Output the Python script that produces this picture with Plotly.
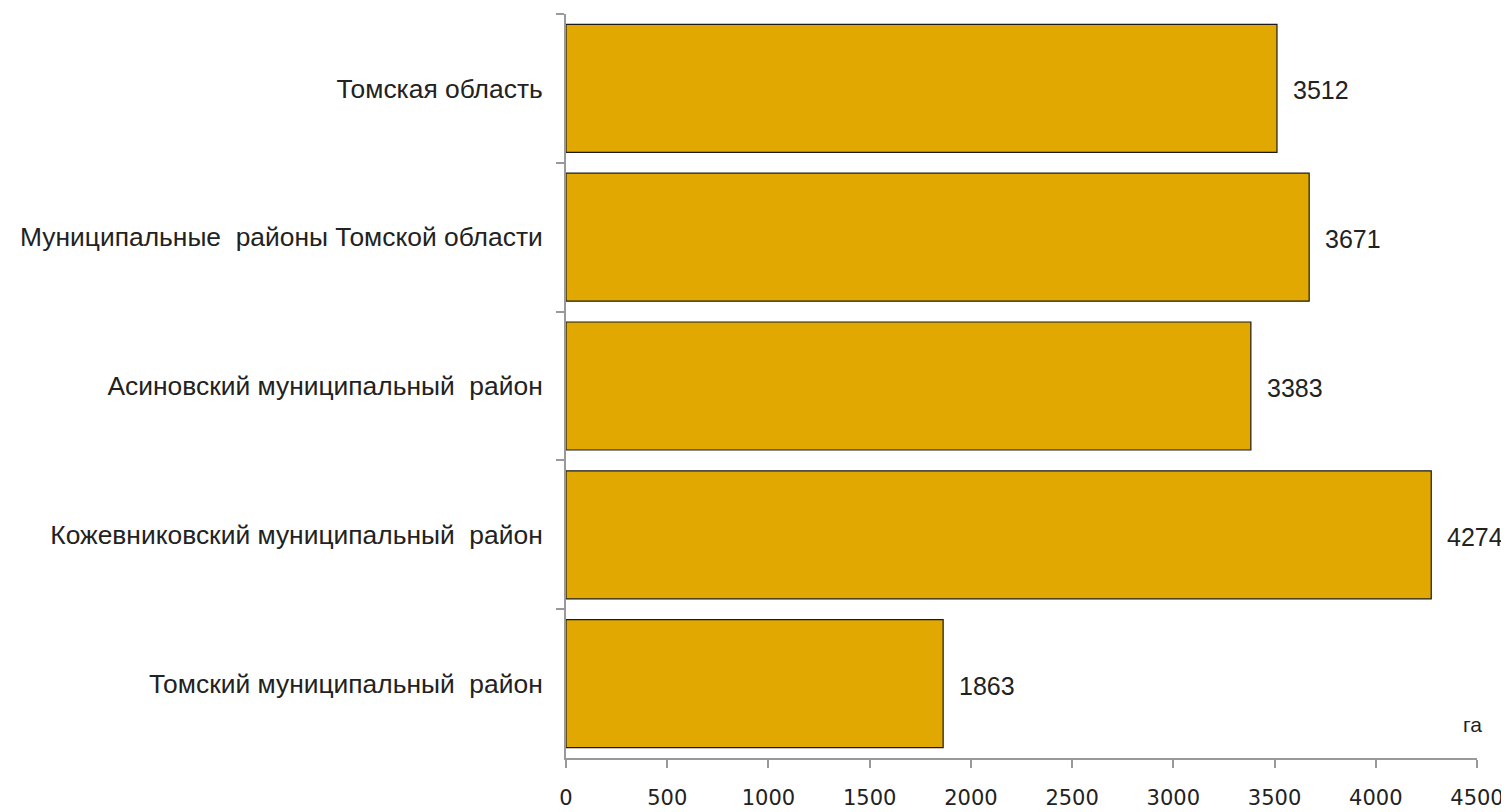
import plotly.graph_objects as go

categories = [
    "Томская область",
    "Муниципальные  районы Томской области",
    "Асиновский муниципальный  район",
    "Кожевниковский муниципальный  район",
    "Томский муниципальный  район",
]
values = [3512, 3671, 3383, 4274, 1863]
x_ticks = [0, 500, 1000, 1500, 2000, 2500, 3000, 3500, 4000, 4500]
unit_label = "га"

# page body has an 8px default margin (left/top), so the figure is sized to end at the window edge
W, H = 1501, 804
fig = go.Figure()
fig.add_trace(go.Bar(
    y=categories, x=values, orientation="h",
    marker=dict(color="#E0A800", line=dict(color="#1a1a1a", width=1.2)),
    hoverinfo="skip",
))

for c, v in zip(categories, values):
    fig.add_annotation(x=v, y=c, xref="x", yref="y", text=str(v), showarrow=False,
                       xanchor="left", yanchor="middle", xshift=14, yshift=-2,
                       font=dict(family="Liberation Sans, Arial", size=25, color="#222"))

fig.add_annotation(x=0.995, y=0.045, xref="paper", yref="paper", text=unit_label,
                   showarrow=False, xanchor="center", yanchor="middle",
                   font=dict(family="Liberation Sans, Arial", size=21, color="#222"))

fig.update_layout(
    width=W, height=H,
    margin=dict(l=558, r=32, t=6, b=54, autoexpand=False),
    paper_bgcolor="white", plot_bgcolor="white",
    bargap=0.14, showlegend=False,
    xaxis=dict(range=[0, 4500], tickvals=x_ticks, ticktext=[str(t) for t in x_ticks],
               showgrid=False, zeroline=False, showline=True, linecolor="#999", linewidth=2,
               ticks="outside", ticklen=8, tickwidth=2, tickcolor="#999",
               ticklabelstandoff=12, automargin=False,
               tickfont=dict(family="DejaVu Sans, Verdana", size=21, color="#222")),
    yaxis=dict(categoryorder="array", categoryarray=categories, autorange="reversed",
               tickson="boundaries", showgrid=False, zeroline=False, showline=True,
               linecolor="#999", linewidth=2, ticks="outside", ticklen=8, tickwidth=2,
               tickcolor="#999", ticklabelstandoff=16, automargin=False,
               tickfont=dict(family="Liberation Sans, Arial", size=26.4, color="#222")),
)
fig.write_html("out.html")
